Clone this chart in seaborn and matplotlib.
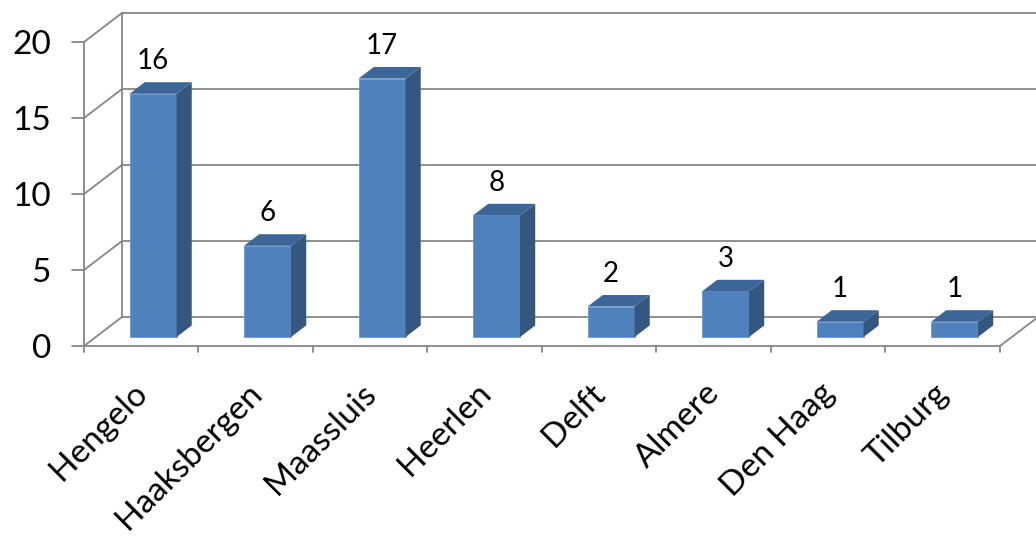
import numpy as np
import pandas as pd
import matplotlib
matplotlib.use('Agg')
import matplotlib.pyplot as plt
from matplotlib.patches import Polygon
import seaborn as sns

# dados
steden = ['Hengelo', 'Haaksbergen', 'Maassluis', 'Heerlen', 'Delft', 'Almere', 'Den Haag', 'Tilburg']
aantal = [16, 6, 17, 8, 2, 3, 1, 1]
yticks = [0, 5, 10, 15, 20]

df = pd.DataFrame({'stad': steden, 'aantal': aantal})

sns.set_style('white')
plt.rcParams['font.family'] = ['Lato', 'DejaVu Sans']

W, H = 1036, 539
px_x = 114.5   # pixels per categorie
px_y = 15.2    # pixels per eenheid
x0_px, y0_px = 84, 346

fig = plt.figure(figsize=(W / 100, H / 100), dpi=100)
ax = fig.add_axes([0, 0, 1, 1])

# diepte (3D offset)
D = 38 / px_x
Dy = 29 / px_y
f1, f2 = 0.31, 0.71
grid = '#868686'
lw = 1.3
n = len(steden)

# achterwand + zijwand
for v in yticks:
    ax.plot([-0.5 + D, 9], [v + Dy, v + Dy], color=grid, lw=lw, zorder=1)
    ax.plot([-0.5, -0.5 + D], [v, v + Dy], color=grid, lw=lw, zorder=1)
    ax.plot([-0.5 - 12 / px_x, -0.5], [v, v], color=grid, lw=lw, zorder=1)
    ax.text(-0.5 - 33 / px_x, v - 3 / px_y, str(v), ha='right', va='center', fontsize=24, color='black')
ax.plot([-0.5 + D, -0.5 + D], [Dy, 20 + Dy], color=grid, lw=lw, zorder=1)
ax.plot([-0.5, -0.5], [0, 20], color=grid, lw=lw, zorder=1)
ax.plot([-0.5, n - 0.5], [0, 0], color=grid, lw=lw, zorder=1)
ax.plot([n - 0.5, n - 0.5 + D], [0, Dy], color=grid, lw=lw, zorder=1)
for i in range(n + 1):
    ax.plot([i - 0.5, i - 0.5], [0, -6 / px_y], color=grid, lw=lw, zorder=1)

# balken
sns.barplot(data=df, x='stad', y='aantal', width=47 / px_x, color='#4F81BD',
            saturation=1, edgecolor='#6B96CB', linewidth=0.6, ax=ax, zorder=3)
ax.set_xlim(-0.5 - x0_px / px_x, -0.5 + (W - x0_px) / px_x)
ax.set_ylim(-(H - y0_px) / px_y, y0_px / px_y)

sx, sy = D * f1, Dy * f1
bx, by = D * (f2 - f1), Dy * (f2 - f1)
for p, v in zip(ax.patches, aantal):
    p.set_x(p.get_x() + sx)
    p.set_y(sy)
    x1 = p.get_x()
    x2 = x1 + p.get_width()
    yb = sy
    yt = sy + p.get_height()
    side = Polygon([(x2, yb), (x2 + bx, yb + by), (x2 + bx, yt + by), (x2, yt)],
                   closed=True, facecolor='#34577F', edgecolor='none', zorder=3)
    top = Polygon([(x1, yt), (x1 + bx, yt + by), (x2 + bx, yt + by), (x2, yt)],
                  closed=True, facecolor='#3D6698', edgecolor='none', zorder=3)
    ax.add_patch(side)
    ax.add_patch(top)
    ax.text((x1 + x2) / 2, yt + by + 8 / px_y, str(v), ha='center', va='bottom',
            fontsize=20, color='black')

# categorie labels
for i, s in enumerate(steden):
    ax.text(i + 0.01, -2.8, s, rotation=45, rotation_mode='anchor', ha='right', va='center',
            fontsize=24, color='black')

ax.axis('off')
fig.savefig('out.png', dpi=100)
